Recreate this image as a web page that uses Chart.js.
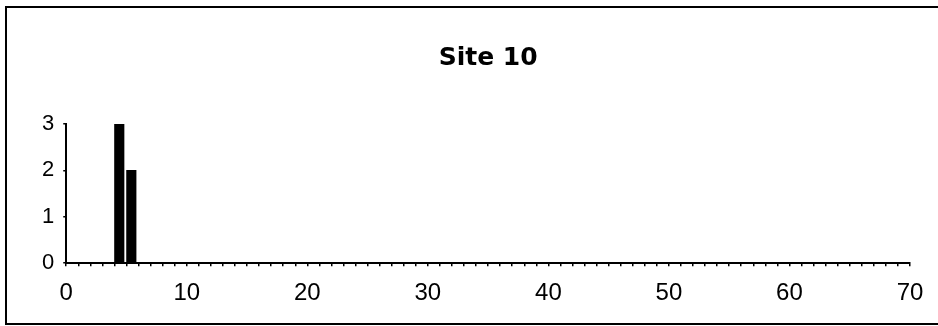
<!DOCTYPE html>
<html>
<head>
<meta charset="utf-8">
<script src="https://cdn.jsdelivr.net/npm/chart.js@4/dist/chart.umd.min.js"></script>
<style>
  html, body { margin: 0; padding: 0; background: #fff; }
  .wrap { position: relative; width: 938px; height: 326px; }
  .frame {
    position: absolute; left: 5px; top: 6px; width: 940px; height: 315px;
    border-top: 2px solid #000; border-left: 2px solid #000; border-bottom: 2px solid #000;
    pointer-events: none;
  }
</style>
</head>
<body>
<div class="wrap">
  <canvas id="siteChart" width="938" height="326"></canvas>
  <div class="frame"></div>
</div>
<script>
// Site 10 counts per bin
const bins = [4, 5];
const counts = [3, 2];
const xTickLabels = [0, 10, 20, 30, 40, 50, 60, 70];
const yTickLabels = [0, 1, 2, 3];

const BAR_SHIFT = 0.4; // bars sit just right of their tick

const ctx = document.getElementById('siteChart');

new Chart(ctx, {
    type: 'bar',
    data: {
        datasets: [{
            label: 'Site 10',
            data: bins.map((b, i) => ({ x: b + BAR_SHIFT, y: counts[i] })),
            backgroundColor: '#000',
            borderWidth: 0,
            barThickness: 9.5
        }]
    },
    options: {
        responsive: false,
        animation: false,
        layout: {
            padding: { left: 33, right: 28, top: 0, bottom: 5 }
        },
        plugins: {
            legend: { display: false },
            tooltip: { enabled: false },
            title: {
                display: true,
                fullSize: false,
                text: 'Site 10',
                color: '#000',
                font: { family: "'DejaVu Sans', sans-serif", size: 25, weight: 'bold' },
                padding: { top: 43, bottom: 51 }
            }
        },
        scales: {
            x: {
                type: 'linear',
                min: 0,
                max: 70,
                offset: false,
                border: { display: true, color: '#000', width: 2 },
                grid: { display: true, offset: false, drawOnChartArea: false, drawTicks: true, tickLength: 3, color: '#000', lineWidth: 1.5 },
                ticks: {
                    stepSize: 1,
                    autoSkip: false,
                    maxRotation: 0,
                    color: '#000',
                    padding: 13,
                    font: { family: "'Liberation Sans', sans-serif", size: 24 },
                    callback: v => xTickLabels.includes(v) ? String(v) : ''
                }
            },
            y: {
                min: 0,
                max: 3,
                border: { display: true, color: '#000', width: 2 },
                grid: { display: true, drawOnChartArea: false, drawTicks: true, tickLength: 3, color: '#000', lineWidth: 1.5 },
                ticks: {
                    stepSize: 1,
                    color: '#000',
                    padding: 9,
                    font: { family: "'Liberation Sans', sans-serif", size: 22 },
                    callback: v => yTickLabels.includes(v) ? String(v) : ''
                }
            }
        }
    }
});
</script>
</body>
</html>
